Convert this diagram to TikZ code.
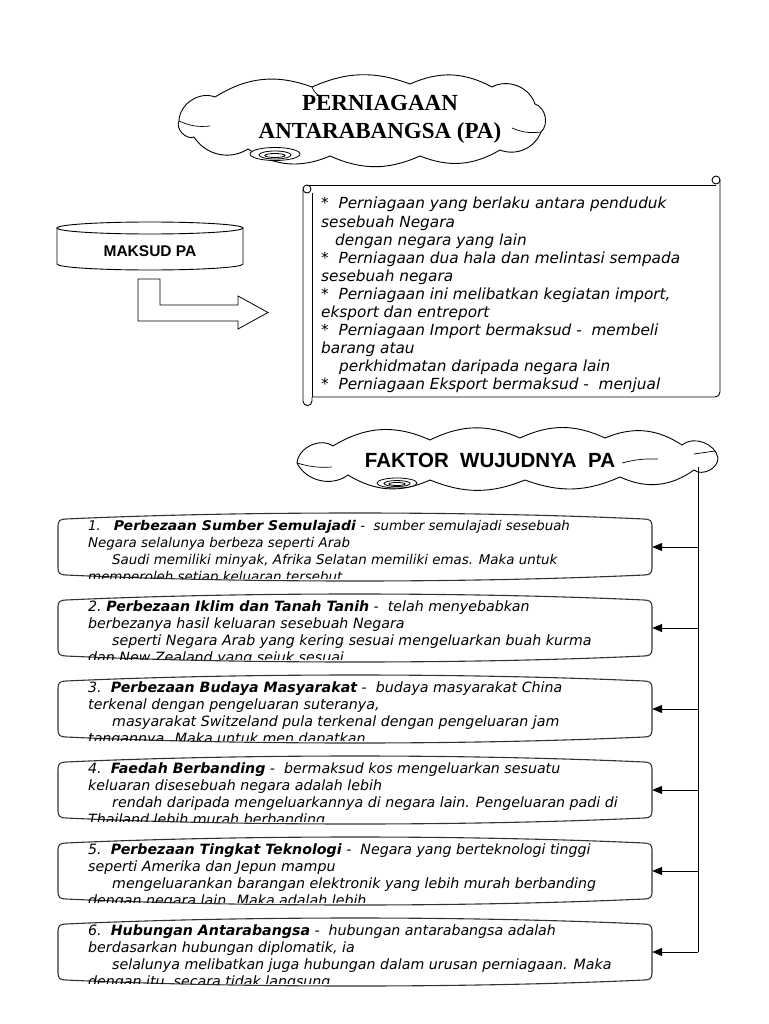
\documentclass[tikz,border=0pt]{standalone}
\usepackage{fontspec}
\setmainfont{DejaVu Sans}
\newfontfamily\serifbold{Liberation Serif}
\newfontfamily\arialf{Liberation Sans}
\newfontfamily\widebold[FakeStretch=1.05]{DejaVu Sans}
\usetikzlibrary{arrows.meta}
\tikzset{
  outline/.style={draw=black, line width=0.9pt},
  lobe/.style={bend left=#1},
  titletext/.style={font=\serifbold\bfseries\fontsize{23}{26}\selectfont, inner sep=0pt, anchor=base},
  headtext/.style={font=\arialf\bfseries\fontsize{20.5}{24}\selectfont, inner sep=0pt, anchor=base},
  stext/.style={font=\itshape\fontsize{15.3}{18}\selectfont, inner sep=0pt, anchor=base west},
  tline/.style={font=\itshape\fontsize{#1}{15}\selectfont, inner sep=0pt, anchor=base west},
  boxline/.style={draw=black!80, line width=1.1pt},
  boxarea/.style={minimum width=594pt, minimum height=66pt, inner sep=0pt},
  arr/.style={line width=0.9pt, -{Triangle[length=10pt,width=8pt]}},
  donut/.style={outline, line width=0.8pt, fill=white},
}
\newcommand\FactorBox[7]{%
  \node[boxarea] (f#1) at (355,#2+33) {};
  \draw[boxline] (58,#2+12) .. controls (58,#2+7) and (60,#2+5) .. (66,#2+5)
     .. controls (240,#2-3) and (470,#2-3) .. (644,#2+5)
     .. controls (650,#2+5) and (652,#2+7) .. (652,#2+12)
     -- (652,#2+54) .. controls (652,#2+59) and (650,#2+61) .. (644,#2+61)
     .. controls (470,#2+69) and (240,#2+69) .. (66,#2+61)
     .. controls (60,#2+61) and (58,#2+59) .. (58,#2+54) -- cycle;
  \begin{scope}
    \clip (58,#2-5) rectangle (652,#2+64);
    \node[tline=#3] (f#1a) at (88,#2+16.5) {#4};
    \node[tline=#3] (f#1b) at (88,#2+33.3) {#5};
    \node[tline=#3] (f#1c) at (112,#2+50.1) {#6};
    \node[tline=#3] (f#1d) at (88,#2+67.6) {#7};
  \end{scope}
  \coordinate (a#1) at (698,#2+33);
  \draw[arr] (a#1) -- (f#1.east);
}
\begin{document}
\begin{tikzpicture}[x=1pt,y=-1pt]
\useasboundingbox[fill=white] (0,0) rectangle (768,1024);

% ---------- title cloud ----------
\coordinate (k0) at (179,121);
\coordinate (k1) at (215,97);
\coordinate (k2) at (312,87);
\coordinate (k3) at (410,84);
\coordinate (k4) at (492,87);
\coordinate (k5) at (535,104);
\coordinate (k6) at (541,132);
\coordinate (k7) at (500,150);
\coordinate (k8) at (420,156);
\coordinate (k9) at (330,156);
\coordinate (k10) at (248,149);
\coordinate (k11) at (194,137);
\draw[outline, fill=white] (k0) to[lobe=55] (k1) to[lobe=26] (k2) to[lobe=22] (k3)
  to[lobe=26] (k4) to[lobe=50] (k5) to[lobe=60] (k6) to[lobe=45] (k7)
  to[lobe=26] (k8) to[lobe=24] (k9) to[lobe=28] (k10) to[lobe=45] (k11)
  to[lobe=70] (k0) -- cycle;
\draw[outline, line width=0.7pt] (k0) to[bend right=15] (210,126);
\draw[outline, line width=0.7pt] (k6) to[bend left=15] (512,128);
\draw[outline, line width=0.7pt] (k2) to[bend right=20] (320,96);
\draw[donut] (275,154) ellipse [x radius=25pt, y radius=6.5pt];
\draw[donut] (275,155) ellipse [x radius=16pt, y radius=4pt];
\draw[donut] (275,155.5) ellipse [x radius=10pt, y radius=2pt];
\node[titletext] (title1) at (380,110.6) {PERNIAGAAN};
\node[titletext] (title2) at (380,138.6) {ANTARABANGSA (PA)};

% ---------- MAKSUD PA drum ----------
\draw[outline] (57,228) -- (57,264) .. controls (57,267.3) and (98.6,270) .. (150,270)
   .. controls (201.4,270) and (243,267.3) .. (243,264) -- (243,228);
\draw[outline] (150,228) ellipse [x radius=93pt, y radius=6pt];
\node[font=\arialf\bfseries\fontsize{15.5}{18}\selectfont, inner sep=0pt, anchor=base] (maksud) at (150,256) {MAKSUD PA};

% ---------- bent arrow ----------
\draw[outline, line width=0.8pt] (138,279) -- (160,279) -- (160,305) -- (238,305) -- (238,296)
   -- (268,312.5) -- (238,329) -- (238,321) -- (138,321) -- cycle;

% ---------- scroll ----------
\draw[outline] (307,185) -- (716,185);
\draw[outline] (720,180) -- (720,392) .. controls (720,395) and (718,397) .. (715,397) -- (312,397);
\draw[outline] (716,180) circle (4);
\draw[outline] (312,193) -- (312,397);
\draw[outline] (303,189) -- (303,401) .. controls (303,407) and (312,407) .. (312,401) -- (312,397);
\draw[outline] (307,189) circle (4);

\foreach \t [count=\i] in {
  {*~~Perniagaan yang berlaku antara penduduk},
  {sesebuah Negara},
  {\hspace*{14pt}dengan negara yang lain},
  {*~~Perniagaan dua hala dan melintasi sempada},
  {sesebuah negara},
  {*~~Perniagaan ini melibatkan kegiatan import,},
  {eksport dan entreport},
  {*~~Perniagaan Import bermaksud -~~membeli},
  {barang atau},
  {\hspace*{18pt}perkhidmatan daripada negara lain},
  {*~~Perniagaan Eksport bermaksud -~~menjual}}
  \node[stext] (s\i) at (321,209+18*\i-18) {\t};

% ---------- factor cloud ----------
\coordinate (m0) at (297,463);
\coordinate (m1) at (333,446);
\coordinate (m2) at (430,440);
\coordinate (m3) at (520,438);
\coordinate (m4) at (605,438);
\coordinate (m5) at (682,445);
\coordinate (m6) at (718,458);
\coordinate (m7) at (694,470);
\coordinate (m8) at (620,477);
\coordinate (m9) at (525,480);
\coordinate (m10) at (430,480);
\coordinate (m11) at (348,475);
\draw[outline, fill=white] (m0) to[lobe=60] (m1) to[lobe=28] (m2) to[lobe=25] (m3)
  to[lobe=25] (m4) to[lobe=28] (m5) to[lobe=60] (m6) to[lobe=65] (m7)
  to[lobe=30] (m8) to[lobe=22] (m9) to[lobe=22] (m10) to[lobe=28] (m11)
  to[lobe=50] (m0) -- cycle;
\draw[outline, line width=0.7pt] (m0) to[bend right=10] (332,467);
\draw[outline, line width=0.7pt] (622,463) to[bend left=8] (658,459);
\draw[outline, line width=0.7pt] (694,454) -- (715,451);
\draw[donut] (397,483) ellipse [x radius=20pt, y radius=5pt];
\draw[donut] (397,483.5) ellipse [x radius=13pt, y radius=3pt];
\draw[donut] (397,484) ellipse [x radius=8pt, y radius=1.5pt];
\node[headtext] (faktor) at (490,467.3) {FAKTOR\ \ WUJUDNYA\ \ PA};

% ---------- factor boxes ----------
\FactorBox{1}{514}{13.4}{1.~~~{\widebold\bfseries\itshape Perbezaan Sumber Semulajadi} -~~sumber semulajadi sesebuah}
  {Negara selalunya berbeza seperti Arab}
  {Saudi memiliki minyak, Afrika Selatan memiliki emas. Maka untuk}
  {memperoleh setiap keluaran tersebut}
\FactorBox{2}{595}{14.2}{2.~\textbf{Perbezaan Iklim dan Tanah Tanih} -~~telah menyebabkan}
  {berbezanya hasil keluaran sesebuah Negara}
  {seperti Negara Arab yang kering sesuai mengeluarkan buah kurma}
  {dan New Zealand yang sejuk sesuai}
\FactorBox{3}{676}{14.2}{3.~~\textbf{Perbezaan Budaya Masyarakat} -~~budaya masyarakat China}
  {terkenal dengan pengeluaran suteranya,}
  {masyarakat Switzeland pula terkenal dengan pengeluaran jam}
  {tangannya. Maka untuk men dapatkan}
\FactorBox{4}{757}{14.2}{4.~~\textbf{Faedah Berbanding} -~~bermaksud kos mengeluarkan sesuatu}
  {keluaran disesebuah negara adalah lebih}
  {rendah daripada mengeluarkannya di negara lain. Pengeluaran padi di}
  {Thailand lebih murah berbanding}
\FactorBox{5}{838}{14.2}{5.~~\textbf{Perbezaan Tingkat Teknologi} -~~Negara yang berteknologi tinggi}
  {seperti Amerika dan Jepun mampu}
  {mengeluarankan barangan elektronik yang lebih murah berbanding}
  {dengan negara lain. Maka adalah lebih}
\FactorBox{6}{919}{14.2}{6.~~\textbf{Hubungan Antarabangsa} -~~hubungan antarabangsa adalah}
  {berdasarkan hubungan diplomatik, ia}
  {selalunya melibatkan juga hubungan dalam urusan perniagaan. Maka}
  {dengan itu, secara tidak langsung}

% ---------- vertical connector ----------
\coordinate (c2r) at (698,467);
\draw[line width=0.9pt] (c2r) -- (a6);
\end{tikzpicture}
\end{document}
